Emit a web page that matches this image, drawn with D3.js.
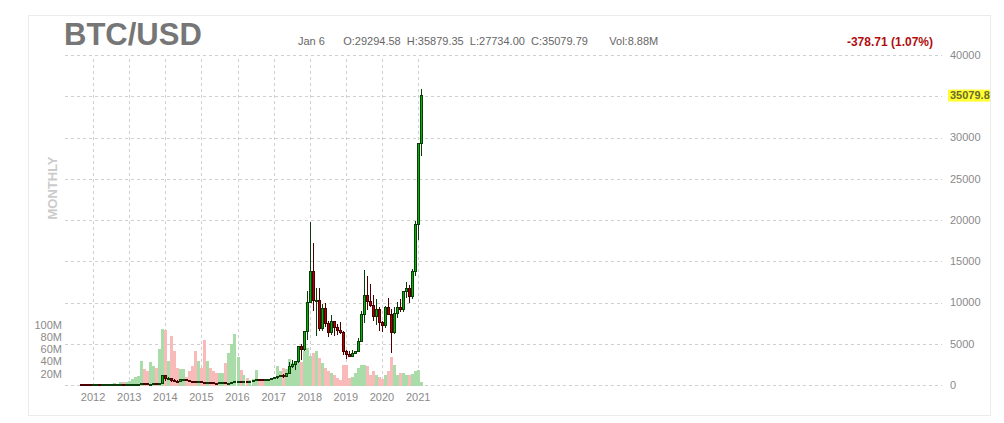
<!DOCTYPE html>
<html>
<head>
<meta charset="utf-8">
<script src="https://cdn.jsdelivr.net/npm/d3@7"></script>
<style>
  body { margin: 0; background: #fff; }
  svg { display: block; font-family: "Liberation Sans", Arial, sans-serif; }
</style>
</head>
<body>
<div id="chart"></div>
<script>
// monthly candles, Aug 2011 .. Jan 2021
const months = [
  "2011-08","2011-09","2011-10","2011-11","2011-12",
  "2012-01","2012-02","2012-03","2012-04","2012-05","2012-06","2012-07","2012-08","2012-09","2012-10","2012-11","2012-12",
  "2013-01","2013-02","2013-03","2013-04","2013-05","2013-06","2013-07","2013-08","2013-09","2013-10","2013-11","2013-12",
  "2014-01","2014-02","2014-03","2014-04","2014-05","2014-06","2014-07","2014-08","2014-09","2014-10","2014-11","2014-12",
  "2015-01","2015-02","2015-03","2015-04","2015-05","2015-06","2015-07","2015-08","2015-09","2015-10","2015-11","2015-12",
  "2016-01","2016-02","2016-03","2016-04","2016-05","2016-06","2016-07","2016-08","2016-09","2016-10","2016-11","2016-12",
  "2017-01","2017-02","2017-03","2017-04","2017-05","2017-06","2017-07","2017-08","2017-09","2017-10","2017-11","2017-12",
  "2018-01","2018-02","2018-03","2018-04","2018-05","2018-06","2018-07","2018-08","2018-09","2018-10","2018-11","2018-12",
  "2019-01","2019-02","2019-03","2019-04","2019-05","2019-06","2019-07","2019-08","2019-09","2019-10","2019-11","2019-12",
  "2020-01","2020-02","2020-03","2020-04","2020-05","2020-06","2020-07","2020-08","2020-09","2020-10","2020-11","2020-12",
  "2021-01"
]
const open = [
  13.5,8.2,5.1,3.25,2.97,
  4.72,5.5,4.86,4.86,4.95,5.17,6.68,9.35,10.2,12.4,11.2,12.6,
  13.5,20.4,33.4,93,139,129,97,106,135,133,198,1130,
  732,830,565,457,448,628,640,585,478,387,338,378,
  320,217,254,244,236,230,263,284,230,236,314,377,
  430,368,437,416,448,531,673,624,573,609,700,742,
  963,970,1190,1080,1348,2300,2480,2875,4700,4340,6470,10000,
  13800,10200,10300,6900,9240,7500,6390,7730,7030,6630,6320,4020,
  3740,3460,3810,4100,5320,8560,10820,10080,9630,8290,9200,7560,
  7190,9350,8540,6410,8620,9450,9140,11350,11650,10780,13800,19400,
  29294.58
]
const high = [
  13.5,8.5,5.2,3.5,4.8,
  7.2,6.3,5.4,5.2,5.2,6.8,9.6,16.4,12.5,12.8,12.6,13.8,
  20.4,33.4,93,266,139,129,110,135,144,220,1160,1160,
  1020,840,710,550,628,680,650,600,490,420,460,380,
  320,266,300,260,247,267,315,285,245,325,500,465,
  465,440,440,470,550,780,700,626,612,720,755,975,
  1150,1210,1290,1350,2760,2980,2920,4750,4980,6470,11400,19700,
  17200,11800,11700,9800,9990,7780,8490,7770,7410,7680,6600,4240,
  4100,4200,4130,5640,9000,13880,13200,12300,10950,10370,9500,7750,
  9580,10500,9200,9470,10070,10400,11430,12480,12070,14100,19900,29300,
  35879.35
]
const low = [
  7.0,4.8,2.3,2.0,2.7,
  4.7,4.3,4.6,4.7,4.9,5.1,6.4,7.0,9.9,10.0,10.5,12.4,
  13.2,19.1,33.4,50,95,88,65,98,120,102,198,455,
  732,400,440,340,420,550,570,440,360,275,322,300,
  152,210,236,215,228,218,253,199,225,235,300,350,
  350,365,400,412,440,525,600,465,570,605,690,745,
  750,915,890,1060,1350,2080,1830,2670,2980,4110,5500,10300,
  9000,6000,6600,6500,7050,5760,6080,5880,6100,6200,3600,3160,
  3400,3390,3730,4080,5330,7500,9060,9400,7710,7300,6520,6430,
  6870,8450,3850,6150,8100,8900,8900,10580,9880,10400,13200,17600,
  27734.00
]
const close = [
  8.2,5.1,3.25,2.97,4.72,
  5.5,4.86,4.86,4.95,5.17,6.68,9.35,10.2,12.4,11.2,12.6,13.5,
  20.4,33.4,93,139,129,97,106,135,133,198,1130,732,
  830,565,457,448,628,640,585,478,387,338,378,320,
  217,254,244,236,230,263,284,230,236,314,377,430,
  368,437,416,448,531,673,624,573,609,700,742,963,
  970,1190,1080,1348,2300,2480,2875,4700,4340,6470,10000,13800,
  10200,10300,6900,9240,7500,6390,7730,7030,6630,6320,4020,3740,
  3460,3810,4100,5320,8560,10820,10080,9630,8290,9200,7560,7190,
  9350,8540,6410,8620,9450,9140,11350,11650,10780,13800,19400,29294.58,
  35079.79
]
// volume, millions
const volume = [
  0.5,0.5,0.5,0.5,0.5,
  0.5,0.5,0.5,0.5,1,3,5.5,4,7,7,7,9,
  11,14,17,41,28,24,40,32,30,61,94,92,
  41,82,58,30,28,28,15,25,32,57,41,29,
  76,41,30,24,22,21,22,37,54,69,86,48,
  27,18,13,10,11,27,12,10,8,8,10,12,
  32,25,29,28,44,38,35,43,40,57,62,49,
  54,57,46,38,29,24,21,18,13,10,35,35,
  13,15,21,29,35,35,32,18,24,18,15,11,
  18,24,47,35,18,21,21,18,18,20,24,27,
  7
]
const yearTicks = [2012,2013,2014,2015,2016,2017,2018,2019,2020,2021]
const priceTicks = [0,5000,10000,15000,20000,25000,30000,35000,40000]
const volumeTicks = [20,40,60,80,100]
const lastPrice = 35079.8

const W = 1004, H = 423
const plot = {left: 65, right: 942, top: 55, bottom: 385}

const svg = d3.select("#chart").append("svg")
    .attr("width", W)
    .attr("height", H)

// outer frame
svg.append("rect")
    .attr("x", 28.5).attr("y", 15.5)
    .attr("width", 962).attr("height", 400)
    .attr("fill", "none")
    .attr("stroke", "#ebebeb")

const xScale = d3.scaleTime()
    .domain([new Date(2011, 2, 23), new Date(2035, 6, 6)])
    .range([plot.left, plot.right])

const yScale = d3.scaleLinear()
    .domain([0, 40000])
    .range([plot.bottom, plot.top])

const vScale = d3.scaleLinear()
    .domain([0, 100])
    .range([386, 325])

const data = months.map((m, i) => {
    const [yy, mm] = m.split("-").map(Number)
    return {
        date: new Date(yy, mm, 1),   // candle drawn at the end of its month
        o: open[i], h: high[i], l: low[i], c: close[i], v: volume[i]
    }
})

// grid
const grid = svg.append("g")
    .attr("stroke", "#d0d0d0")
    .attr("stroke-dasharray", "3,3")
    .attr("shape-rendering", "crispEdges")

grid.selectAll(".hgrid")
    .data(priceTicks)
    .join("line")
        .attr("x1", plot.left).attr("x2", plot.right)
        .attr("y1", d => Math.round(yScale(d)) + 0.5)
        .attr("y2", d => Math.round(yScale(d)) + 0.5)

grid.selectAll(".vgrid")
    .data(yearTicks)
    .join("line")
        .attr("x1", d => Math.round(xScale(new Date(d, 0, 1))) + 0.5)
        .attr("x2", d => Math.round(xScale(new Date(d, 0, 1))) + 0.5)
        .attr("y1", plot.top + 4).attr("y2", plot.bottom)

// volume bars
svg.append("g")
    .attr("shape-rendering", "crispEdges")
  .selectAll("rect")
  .data(data)
  .join("rect")
    .attr("x", d => Math.round(xScale(d.date)) - 1)
    .attr("width", 3)
    .attr("y", d => vScale(d.v))
    .attr("height", d => vScale(0) - vScale(d.v))
    .attr("fill", d => d.c >= d.o ? "#a9dca9" : "#f9baba")

// candles
const candles = svg.append("g")
    .attr("shape-rendering", "crispEdges")
  .selectAll("g")
  .data(data)
  .join("g")

candles.append("line")
    .attr("x1", d => Math.round(xScale(d.date)) + 0.5)
    .attr("x2", d => Math.round(xScale(d.date)) + 0.5)
    .attr("y1", d => yScale(d.h))
    .attr("y2", d => yScale(d.l))
    .attr("stroke", d => d.c >= d.o ? "#0a3d0a" : "#4a0000")

candles.append("rect")
    .attr("x", d => Math.round(xScale(d.date)) - 0.5)
    .attr("width", 2)
    .attr("y", d => yScale(Math.max(d.o, d.c)))
    .attr("height", d => Math.max(1, Math.abs(yScale(d.o) - yScale(d.c))))
    .attr("fill", d => d.c >= d.o ? "#00b400" : "#b40000")
    .attr("stroke", d => d.c >= d.o ? "#0a3d0a" : "#4a0000")

// price axis labels (the tick next to the last price is covered by its marker)
svg.append("g")
  .selectAll("text")
  .data(priceTicks.filter(d => Math.abs(yScale(d) - yScale(lastPrice)) > 10))
  .join("text")
    .attr("x", 950)
    .attr("y", d => yScale(d))
    .attr("dy", "0.35em")
    .attr("font-size", 11)
    .attr("fill", "#8a8a8a")
    .text(d => d)

// last price marker
const lp = svg.append("g")
lp.append("rect")
    .attr("x", 948).attr("y", yScale(lastPrice) - 6)
    .attr("width", 42).attr("height", 12)
    .attr("fill", "#ffff33")
lp.append("text")
    .attr("x", 950).attr("y", yScale(lastPrice))
    .attr("dy", "0.35em")
    .attr("font-size", 11)
    .attr("font-weight", "bold")
    .attr("fill", "#6b6b2a")
    .text(lastPrice.toFixed(1))

// volume labels
svg.append("g")
  .selectAll("text")
  .data(volumeTicks)
  .join("text")
    .attr("x", 62)
    .attr("y", d => vScale(d))
    .attr("dy", "0.35em")
    .attr("text-anchor", "end")
    .attr("font-size", 11)
    .attr("fill", "#8a8a8a")
    .text(d => d + "M")

// year labels
svg.append("g")
  .selectAll("text")
  .data(yearTicks)
  .join("text")
    .attr("x", d => xScale(new Date(d, 0, 1)))
    .attr("y", 401)
    .attr("text-anchor", "middle")
    .attr("font-size", 11)
    .attr("fill", "#8a8a8a")
    .text(d => d)

// title & header
svg.append("text")
    .attr("x", 64).attr("y", 45)
    .attr("font-size", 31)
    .attr("font-weight", "bold")
    .attr("fill", "#767676")
    .text("BTC/USD")

svg.append("text")
    .attr("x", 298).attr("y", 45)
    .attr("font-size", 11)
    .attr("fill", "#666")
    .attr("xml:space", "preserve")
    .text("Jan 6      O:29294.58  H:35879.35  L:27734.00  C:35079.79       Vol:8.88M")

svg.append("text")
    .attr("x", 933).attr("y", 46)
    .attr("text-anchor", "end")
    .attr("font-size", 12)
    .attr("font-weight", "bold")
    .attr("fill", "#b00d0d")
    .text("-378.71 (1.07%)")

svg.append("text")
    .attr("transform", "translate(57,188) rotate(-90)")
    .attr("text-anchor", "middle")
    .attr("font-size", 13)
    .attr("font-weight", "bold")
    .attr("fill", "#cbcbcb")
    .text("MONTHLY")
</script>
</body>
</html>
